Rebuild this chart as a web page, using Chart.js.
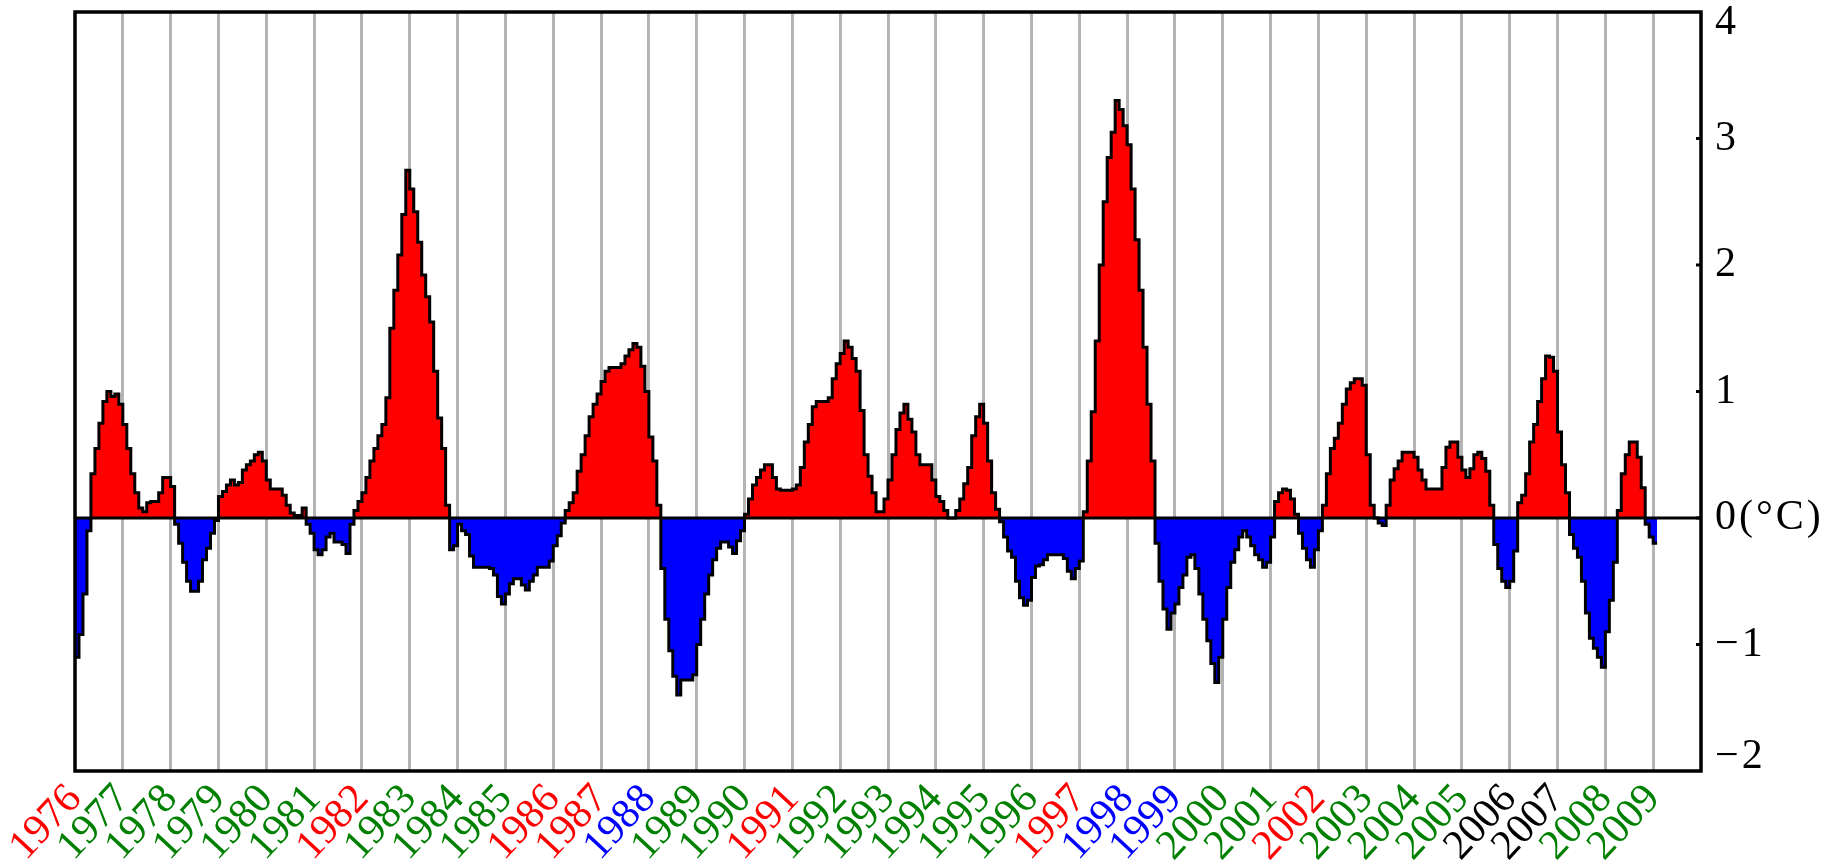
<!DOCTYPE html>
<html><head><meta charset="utf-8">
<script src="https://cdn.jsdelivr.net/npm/chart.js@4.4.1/dist/chart.umd.min.js"></script>
<style>html,body{margin:0;padding:0;background:#fff;}#wrap{width:1839px;height:865px;}</style>
</head><body><div id="wrap"><canvas id="c" width="1839" height="865"></canvas></div>
<script>
// ---- data (monthly anomaly, °C, from Jan 1976) ----
const startYear = 1976;
const years = ['1976','1977','1978','1979','1980','1981','1982','1983','1984','1985','1986','1987','1988','1989','1990','1991','1992','1993','1994','1995','1996','1997','1998','1999','2000','2001','2002','2003','2004','2005','2006','2007','2008','2009'];
// E = El Niño year (red), L = La Niña year (blue), N = normal (green), U = undetermined (black)
const yearType = ['E','N','N','N','N','N','E','N','N','N','E','E','L','N','N','E','N','N','N','N','N','E','L','L','N','N','E','N','N','N','U','U','N','N'];

const anom1976_1980 = [
  -1.1,-0.92,-0.6,-0.1,0.35,0.55,0.75,0.92,1.0,0.96,0.98,0.9,
  0.74,0.55,0.35,0.2,0.08,0.05,0.12,0.13,0.13,0.2,0.32,0.32,
  0.25,-0.05,-0.2,-0.35,-0.5,-0.58,-0.58,-0.5,-0.33,-0.24,-0.12,-0.02,
  0.17,0.21,0.26,0.3,0.26,0.28,0.38,0.42,0.45,0.5,0.52,0.45,
  0.3,0.23,0.23,0.23,0.18,0.1,0.04,0.02,0.02,0.08,-0.05,-0.12];
const anom1981_1985 = [
  -0.25,-0.29,-0.25,-0.15,-0.12,-0.19,-0.19,-0.21,-0.28,-0.05,0.06,0.13,
  0.2,0.32,0.45,0.55,0.65,0.74,0.95,1.5,1.8,2.08,2.4,2.75,
  2.6,2.42,2.18,1.92,1.75,1.55,1.16,0.79,0.55,0.1,-0.25,-0.22,
  -0.05,-0.1,-0.13,-0.3,-0.39,-0.39,-0.39,-0.39,-0.4,-0.45,-0.62,-0.68,
  -0.6,-0.52,-0.48,-0.48,-0.53,-0.57,-0.5,-0.45,-0.39,-0.39,-0.39,-0.34];
const anom1986_1990 = [
  -0.22,-0.14,-0.04,0.06,0.12,0.2,0.37,0.5,0.65,0.8,0.9,0.98,
  1.08,1.16,1.19,1.19,1.19,1.22,1.28,1.33,1.38,1.35,1.2,1.0,
  0.64,0.45,0.1,-0.4,-0.8,-1.05,-1.25,-1.4,-1.28,-1.28,-1.28,-1.24,
  -1.0,-0.8,-0.6,-0.45,-0.33,-0.24,-0.19,-0.19,-0.23,-0.28,-0.18,-0.1,
  0.03,0.15,0.26,0.32,0.38,0.42,0.42,0.32,0.23,0.22,0.22,0.22];
const anom1991_1995 = [
  0.23,0.26,0.4,0.6,0.74,0.88,0.92,0.92,0.92,0.95,1.1,1.22,
  1.3,1.4,1.35,1.26,1.16,0.85,0.5,0.33,0.2,0.05,0.05,0.15,
  0.3,0.5,0.7,0.83,0.9,0.78,0.68,0.5,0.42,0.42,0.42,0.3,
  0.17,0.13,0.06,0.0,0.0,0.06,0.15,0.27,0.4,0.65,0.8,0.9,
  0.75,0.45,0.2,0.07,-0.03,-0.15,-0.26,-0.31,-0.5,-0.63,-0.69,-0.65];
const anom1996_2000 = [
  -0.47,-0.38,-0.37,-0.33,-0.29,-0.29,-0.29,-0.29,-0.32,-0.42,-0.48,-0.4,
  -0.34,0.05,0.45,0.84,1.4,2.0,2.5,2.85,3.05,3.3,3.23,3.1,
  2.95,2.6,2.2,1.8,1.35,0.9,0.45,-0.2,-0.5,-0.72,-0.88,-0.75,
  -0.68,-0.55,-0.45,-0.31,-0.29,-0.4,-0.6,-0.8,-0.97,-1.15,-1.3,-1.1,
  -0.8,-0.55,-0.35,-0.25,-0.15,-0.1,-0.15,-0.22,-0.29,-0.33,-0.39,-0.35];
const anom2001_2005 = [
  -0.15,0.13,0.2,0.23,0.22,0.15,0.03,-0.12,-0.24,-0.33,-0.39,-0.25,
  -0.1,0.1,0.35,0.55,0.63,0.75,0.9,1.02,1.07,1.1,1.1,1.05,
  0.5,0.1,0.0,-0.04,-0.06,0.1,0.3,0.39,0.45,0.52,0.52,0.52,
  0.48,0.38,0.3,0.23,0.23,0.23,0.23,0.4,0.56,0.6,0.6,0.48,
  0.38,0.32,0.39,0.5,0.52,0.47,0.37,0.1,-0.21,-0.4,-0.5,-0.55];
const anom2006_2009 = [
  -0.5,-0.26,0.12,0.18,0.35,0.6,0.74,0.92,1.1,1.28,1.27,1.16,
  0.68,0.42,0.2,-0.13,-0.24,-0.31,-0.5,-0.75,-0.95,-1.03,-1.1,-1.18,
  -0.9,-0.65,-0.35,0.06,0.35,0.5,0.6,0.6,0.48,0.24,-0.05,-0.15,
  -0.2];

const yTicks = [-2,-1,0,1,2,3,4];
const yTickLabels = ['\u22122','\u22121','0(\u00B0C)','1','2','3','4'];

// ---- build ----
const typeColors = {E:'#ff0000', L:'#0000ff', N:'#008000', U:'#000000'};
const values = [].concat(anom1976_1980, anom1981_1985, anom1986_1990, anom1991_1995, anom1996_2000, anom2001_2005, anom2006_2009);
const points = values.map((v,i) => ({x: startYear + i/12, y: v}));
points.push({x: startYear + values.length/12, y: values[values.length-1]});
const endYear = startYear + years.length;
const yearTicks = years.map(Number).concat([endYear]);
const FONT = '"Liberation Serif", "DejaVu Serif", serif';

const framePlugin = {
  id: 'frame',
  afterDraw(chart) {
    const {ctx, chartArea: a, scales: {y}} = chart;
    ctx.save();
    // zero line
    const y0 = y.getPixelForValue(0);
    ctx.strokeStyle = '#000'; ctx.lineWidth = 3;
    ctx.beginPath(); ctx.moveTo(a.left, y0); ctx.lineTo(a.right, y0); ctx.stroke();
    // inner tick marks
    yTicks.forEach(v => {
      if (v === yTicks[0] || v === yTicks[yTicks.length-1]) return;
      const py = y.getPixelForValue(v);
      ctx.beginPath(); ctx.moveTo(a.right - 5, py); ctx.lineTo(a.right, py); ctx.stroke();
    });
    // frame
    ctx.lineWidth = 3.5;
    ctx.strokeRect(a.left, a.top, a.right - a.left, a.bottom - a.top);
    // y tick labels (kept inside the frame height)
    ctx.fillStyle = '#000';
    ctx.font = '42px ' + FONT;
    ctx.textAlign = 'left'; ctx.textBaseline = 'middle';
    try { ctx.letterSpacing = '3px'; } catch (e) {}
    yTicks.forEach((v, i) => {
      let py = y.getPixelForValue(v);
      py = Math.min(Math.max(py, a.top + 11), a.bottom - 14);
      ctx.fillText(yTickLabels[i], a.right + 14, py);
    });
    ctx.restore();
  }
};

new Chart(document.getElementById('c'), {
  type: 'line',
  data: { datasets: [{
    data: points,
    stepped: true,
    borderColor: '#000',
    borderWidth: 3,
    pointRadius: 0,
    fill: { target: 'origin', above: '#ff0000', below: '#0000ff' }
  }]},
  options: {
    responsive: false, animation: false, devicePixelRatio: 1,
    layout: { padding: { left: 75, top: 12, right: 0, bottom: 0 } },
    plugins: { legend: {display: false}, tooltip: {enabled: false} },
    scales: {
      x: {
        type: 'linear', position: 'bottom', min: startYear, max: endYear, z: 1,
        afterBuildTicks: s => { s.ticks = yearTicks.map(v => ({value: v})); },
        afterFit: s => { s.height = 94; },
        border: { display: false },
        grid: { drawTicks: false, lineWidth: 3,
          color: c => (c.tick && (c.tick.value === startYear || c.tick.value === endYear)) ? 'rgba(0,0,0,0)' : '#b4b4b4' },
        ticks: {
          autoSkip: false, minRotation: 47, maxRotation: 47, padding: 4,
          font: { family: FONT, size: 42 },
          color: c => typeColors[yearType[c.index]] || '#000',
          callback: (v, i) => years[i] !== undefined ? years[i] : ''
        }
      },
      y: {
        type: 'linear', position: 'right', min: yTicks[0], max: yTicks[yTicks.length-1],
        afterBuildTicks: s => { s.ticks = yTicks.map(v => ({value: v})); },
        afterFit: s => { s.width = 138; },
        border: { display: false },
        grid: { display: false },
        ticks: { display: false }
      }
    }
  },
  plugins: [framePlugin]
});
</script>
</body></html>
